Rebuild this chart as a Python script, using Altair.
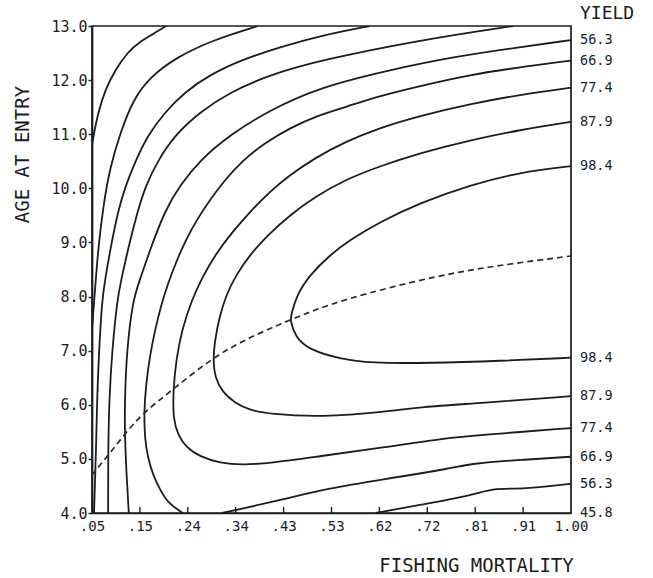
import json
import altair as alt
import pandas as pd

# Axis ticks
F_TICKS = [0.05, 0.145, 0.24, 0.335, 0.43, 0.525, 0.62, 0.715, 0.81, 0.905, 1.0]
F_TICK_LABELS = [".05", ".15", ".24", ".34", ".43", ".53", ".62", ".72", ".81", ".91", "1.00"]
AGE_TICKS = [4.0, 5.0, 6.0, 7.0, 8.0, 9.0, 10.0, 11.0, 12.0, 13.0]

# Yield isopleths: fishing mortality (F) and age at entry along each line
Y143_F = [0.050, 0.054, 0.062, 0.076, 0.096, 0.121, 0.145, 0.169, 0.197]
Y143_AGE = [10.80, 11.02, 11.39, 11.82, 12.19, 12.52, 12.71, 12.84, 13.0]

Y248_F = [0.050, 0.052, 0.056, 0.062, 0.072, 0.086, 0.106, 0.131, 0.165, 0.219, 0.290, 0.379]
Y248_AGE = [7.38, 7.66, 8.12, 8.86, 9.66, 10.40, 11.02, 11.63, 12.06, 12.43, 12.74, 13.0]

Y353_F = [0.601, 0.502, 0.423, 0.345, 0.284, 0.234, 0.195, 0.161, 0.137, 0.117,
          0.102, 0.086, 0.076, 0.070, 0.064, 0.060, 0.058, 0.056, 0.054]
Y353_AGE = [13.0, 12.82, 12.61, 12.37, 12.10, 11.78, 11.41, 10.99, 10.52, 10.06,
            9.60, 8.86, 8.31, 7.94, 7.01, 6.09, 5.16, 4.61, 4.0]

Y458_F = [0.885, 0.700, 0.504, 0.403, 0.324, 0.264, 0.215, 0.181, 0.157, 0.141,
          0.121, 0.108, 0.100, 0.090, 0.084, 0.082, 0.082]
Y458_AGE = [13.0, 12.74, 12.37, 12.10, 11.78, 11.41, 10.99, 10.52, 10.06, 9.60,
            8.86, 8.31, 7.94, 7.01, 6.09, 5.11, 4.0]

Y563_UP_F = [1.000, 0.899, 0.766, 0.641, 0.502, 0.403, 0.324, 0.264, 0.225, 0.195,
             0.165, 0.145, 0.131, 0.119, 0.115, 0.115, 0.119, 0.123]
Y563_UP_AGE = [12.74, 12.61, 12.43, 12.19, 11.87, 11.45, 10.99, 10.52, 10.06, 9.60,
               8.86, 8.31, 7.94, 7.01, 6.09, 5.44, 4.61, 4.0]
Y563_LO_F = [0.613, 0.700, 0.806, 0.845, 0.905, 1.000]
Y563_LO_AGE = [4.0, 4.15, 4.33, 4.46, 4.44, 4.54]

Y669_UP_F = [1.000, 0.899, 0.800, 0.700, 0.621, 0.552, 0.502, 0.443, 0.393, 0.349,
             0.314, 0.284, 0.260, 0.236, 0.217, 0.201, 0.187, 0.175, 0.165, 0.157,
             0.153, 0.155, 0.161, 0.171, 0.185, 0.201, 0.230]
Y669_UP_AGE = [12.36, 12.24, 12.10, 11.89, 11.71, 11.50, 11.36, 11.12, 10.84, 10.52,
               10.16, 9.79, 9.45, 9.05, 8.64, 8.25, 7.84, 7.38, 6.92, 6.37,
               5.85, 5.35, 5.02, 4.70, 4.43, 4.18, 4.0]
Y669_LO_F = [0.308, 0.353, 0.423, 0.522, 0.621, 0.766, 0.806, 0.899, 1.000]
Y669_LO_AGE = [4.0, 4.09, 4.24, 4.46, 4.61, 4.83, 4.92, 4.98, 5.04]

Y774_F = [1.000, 0.899, 0.800, 0.700, 0.621, 0.552, 0.492, 0.443, 0.399, 0.363,
          0.328, 0.294, 0.268, 0.248, 0.228, 0.217, 0.211, 0.211, 0.221, 0.236,
          0.264, 0.304, 0.349, 0.403, 0.502, 0.621, 0.754, 0.820, 1.000]
Y774_AGE = [11.86, 11.73, 11.56, 11.34, 11.12, 10.86, 10.56, 10.25, 9.91, 9.56,
            9.19, 8.77, 8.34, 7.94, 7.38, 6.83, 6.27, 5.72, 5.44, 5.22,
            5.04, 4.92, 4.89, 4.92, 5.05, 5.20, 5.39, 5.44, 5.57]

Y879_F = [1.000, 0.899, 0.800, 0.700, 0.621, 0.552, 0.492, 0.443, 0.399, 0.363,
          0.336, 0.316, 0.302, 0.294, 0.290, 0.294, 0.308, 0.334, 0.363, 0.403,
          0.502, 0.635, 0.700, 0.820, 1.000]
Y879_AGE = [11.23, 11.08, 10.89, 10.65, 10.41, 10.16, 9.84, 9.51, 9.14, 8.77,
            8.40, 8.03, 7.60, 7.20, 6.83, 6.50, 6.24, 6.03, 5.90, 5.83,
            5.77, 5.87, 5.96, 6.03, 6.16]

Y984_F = [1.000, 0.899, 0.800, 0.700, 0.621, 0.562, 0.522, 0.482, 0.456, 0.445,
          0.443, 0.453, 0.482, 0.542, 0.601, 0.720, 0.859, 1.000]
Y984_AGE = [10.41, 10.30, 10.06, 9.73, 9.38, 9.05, 8.77, 8.40, 8.03, 7.66,
            7.57, 7.25, 7.01, 6.85, 6.77, 6.77, 6.81, 6.87]

# Eumetric fishing line (dashed)
EUM_F = [0.050, 0.066, 0.086, 0.115, 0.151, 0.209, 0.290, 0.363, 0.443, 0.542, 0.740, 0.859, 1.000]
EUM_AGE = [4.70, 4.89, 5.11, 5.46, 5.85, 6.27, 6.88, 7.25, 7.57, 7.94, 8.40, 8.58, 8.75]

# Yield values written at the right-hand end of each isopleth
EDGE_LABELS = ["56.3", "66.9", "77.4", "87.9", "98.4",
               "98.4", "87.9", "77.4", "66.9", "56.3", "45.8"]
EDGE_AGES = [Y563_UP_AGE[0], Y669_UP_AGE[0], Y774_AGE[0], Y879_AGE[0], Y984_AGE[0],
             Y984_AGE[-1], Y879_AGE[-1], Y774_AGE[-1], Y669_LO_AGE[-1], Y563_LO_AGE[-1], 4.0]

segments = [
    ("14.3", Y143_F, Y143_AGE),
    ("24.8", Y248_F, Y248_AGE),
    ("35.3", Y353_F, Y353_AGE),
    ("45.8", Y458_F, Y458_AGE),
    ("56.3a", Y563_UP_F, Y563_UP_AGE),
    ("56.3b", Y563_LO_F, Y563_LO_AGE),
    ("66.9a", Y669_UP_F, Y669_UP_AGE),
    ("66.9b", Y669_LO_F, Y669_LO_AGE),
    ("77.4", Y774_F, Y774_AGE),
    ("87.9", Y879_F, Y879_AGE),
    ("98.4", Y984_F, Y984_AGE),
]

rows = []
for name, fs, ages in segments:
    for i, (f, a) in enumerate(zip(fs, ages)):
        rows.append({"segment": name, "order": i, "f": f, "age": a})
iso = pd.DataFrame(rows)

eum = pd.DataFrame({"f": EUM_F, "age": EUM_AGE, "order": list(range(len(EUM_F)))})
edge = pd.DataFrame({"f": [1.0] * len(EDGE_LABELS), "age": EDGE_AGES, "label": EDGE_LABELS})
ticks = pd.DataFrame({"f": F_TICKS[1:-1]})

FONT = "DejaVu Sans Mono"
INK = "#1c1c1c"

x_scale = alt.Scale(domain=[0.05, 1.0], nice=False, zero=False)
y_scale = alt.Scale(domain=[4.0, 13.0], nice=False, zero=False)

label_expr = json.dumps(F_TICK_LABELS) + "[round((datum.value - 0.05) / 0.095)]"

x_axis = alt.Axis(
    values=F_TICKS, labelExpr=label_expr, title="FISHING MORTALITY",
    tickSize=0, labelPadding=6, labelFont=FONT, labelFontSize=14, labelColor=INK,
    titleFont=FONT, titleFontSize=19, titleFontWeight="normal", titleColor=INK,
    titleX=384, titleY=52, titleAlign="center", titleBaseline="middle",
    grid=False, domainColor=INK, domainWidth=1.7, labelFlush=False,
)
y_axis = alt.Axis(
    values=AGE_TICKS, format=".1f", title="AGE AT ENTRY",
    tickSize=4, tickColor=INK, tickWidth=1.4, labelPadding=1,
    labelFont=FONT, labelFontSize=15, labelColor=INK,
    titleFont=FONT, titleFontSize=19, titleFontWeight="normal", titleColor=INK,
    titleX=-70, titleY=128, titleAngle=270, titleAlign="center", titleBaseline="middle",
    grid=False, domainColor=INK, domainWidth=1.7, labelFlush=False,
)

X = alt.X("f:Q", scale=x_scale, axis=x_axis)
Y = alt.Y("age:Q", scale=y_scale, axis=y_axis)

lines = alt.Chart(iso).mark_line(
    color=INK, strokeWidth=1.8, interpolate="basis", clip=True
).encode(x=X, y=Y, detail="segment:N", order="order:Q")

eumetric = alt.Chart(eum).mark_line(
    color="#2a2a2a", strokeWidth=1.7, strokeDash=[6, 4], interpolate="basis", clip=True
).encode(x=X, y=Y, order="order:Q")

# Inward tick marks along the bottom edge
bottom_ticks = alt.Chart(ticks).mark_rule(color=INK, strokeWidth=1.4).encode(
    x=X, y=alt.value(487), y2=alt.value(481),
)

edge_text = alt.Chart(edge).mark_text(
    align="left", baseline="middle", dx=9, font=FONT, fontSize=13.5, color=INK
).encode(x=X, y=Y, text="label:N")

yield_head = alt.Chart(pd.DataFrame({"t": ["YIELD"]})).mark_text(
    align="left", baseline="middle", font=FONT, fontSize=18, color=INK
).encode(x=alt.value(488), y=alt.value(-12), text="t:N")

chart = alt.layer(lines, eumetric, bottom_ticks, edge_text, yield_head).properties(
    width=479,
    height=487,
    autosize=alt.AutoSizeParams(type="none"),
    padding={"left": 92, "top": 26, "right": 82, "bottom": 65},
    background="white",
).configure_view(stroke=INK, strokeWidth=1.7)

chart.save("out.html", embed_options={"renderer": "svg", "actions": False})
